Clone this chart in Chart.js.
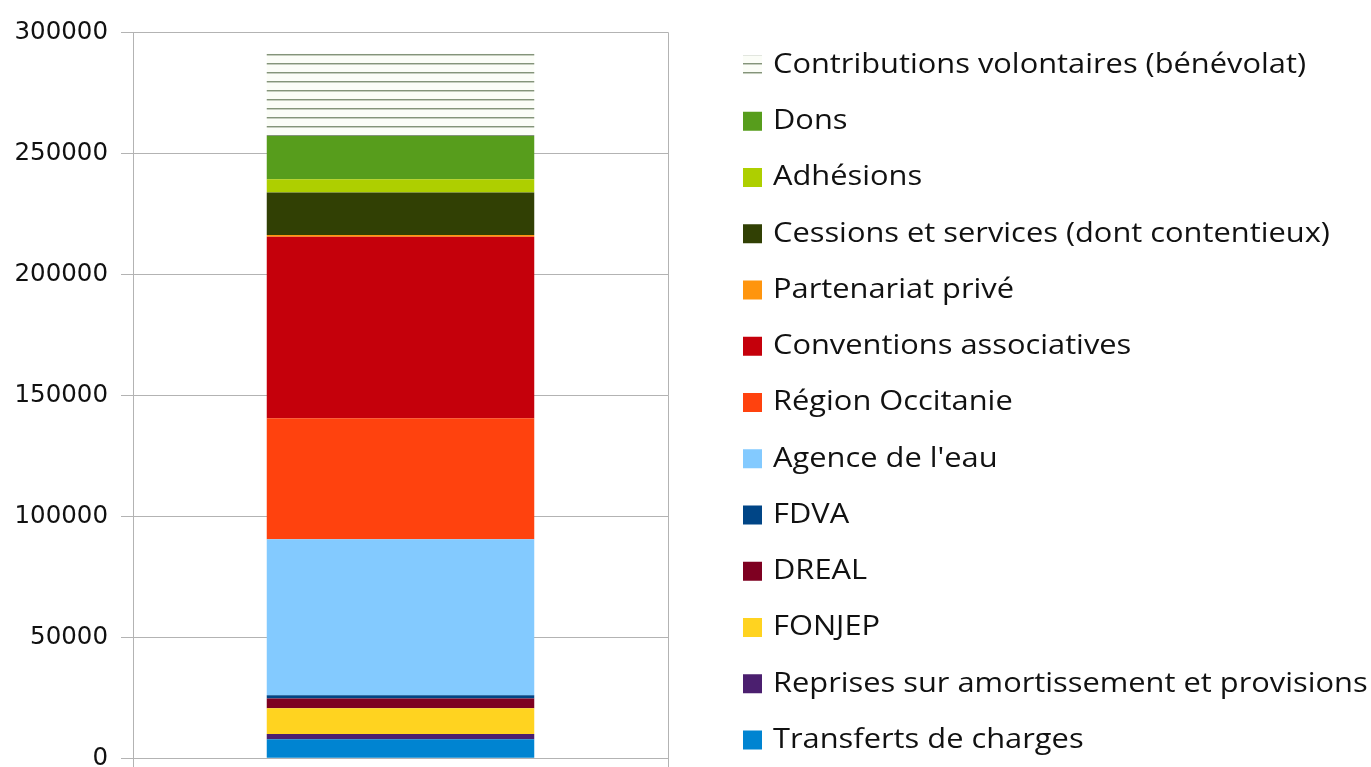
<!DOCTYPE html>
<html lang="fr">
<head>
<meta charset="utf-8">
<title>Ressources</title>
<script src="https://cdn.jsdelivr.net/npm/chart.js@4"></script>
<style>
  html, body { margin: 0; padding: 0; background: #fff; overflow: hidden; }
  #wrap { width: 1371px; height: 786px; }
</style>
</head>
<body>
<div id="wrap"><canvas id="chart" width="1371" height="786"></canvas></div>
<script>
// one stacked bar, series listed bottom -> top
const categories = [''];
const seriesNames = [
    'Transferts de charges',
    'Reprises sur amortissement et provisions',
    'FONJEP',
    'DREAL',
    'FDVA',
    "Agence de l'eau",
    'Région Occitanie',
    'Conventions associatives',
    'Partenariat privé',
    'Cessions et services (dont contentieux)',
    'Adhésions',
    'Dons',
    'Contributions volontaires (bénévolat)'
];
const seriesValues = [7900, 2100, 10700, 4000, 1400, 64400, 50000, 75000, 700, 17600, 5500, 17900, 34000];
const yTicks = [0, 50000, 100000, 150000, 200000, 250000, 300000];

const colors = ['#0084d1', '#4b1f6f', '#ffd320', '#7e0021', '#004586', '#83caff',
    '#ff420e', '#c5000b', '#ff950e', '#314004', '#aecf00', '#579d1c'];

// horizontal hatch for the volunteer contributions
function hatch() {
    const c = document.createElement('canvas');
    c.width = 8; c.height = 9;
    const g = c.getContext('2d');
    g.fillStyle = '#fbfdf7';
    g.fillRect(0, 0, 8, 9);
    g.fillStyle = '#84947a';
    g.fillRect(0, 0, 8, 1);
    g.fillStyle = 'rgba(132,148,122,0.45)';
    g.fillRect(0, 1, 8, 1);
    return g.createPattern(c, 'repeat');
}

const fills = colors.concat([hatch()]);
const gridColor = '#b3b3b3';

// legend list drawn beside the plot (top entry = last series)
const sideLegend = {
    id: 'sideLegend',
    afterDraw(chart) {
        const ctx = chart.ctx;
        const items = chart.data.datasets.map(d => ({ text: d.label, fill: d.backgroundColor })).reverse();
        ctx.save();
        ctx.font = '28px "Open Sans", sans-serif';
        ctx.textBaseline = 'middle';
        const sx = 533 / ctx.measureText(items[0].text).width;
        items.forEach((it, i) => {
            const y = 65 + i * 56.25;
            ctx.fillStyle = it.fill;
            ctx.fillRect(743, y - 9.5, 19, 19);
            ctx.save();
            ctx.translate(773, y);
            ctx.scale(sx, 1);
            ctx.fillStyle = '#111';
            ctx.fillText(it.text, 0, 0);
            ctx.restore();
        });
        ctx.restore();
    }
};

const datasets = seriesNames.map((name, i) => ({
    label: name,
    data: [seriesValues[i]],
    backgroundColor: fills[i],
    borderWidth: 0,
    barPercentage: 0.5,
    categoryPercentage: 1
}));

// canvas is a bit taller than the window; the bottom strip is cropped like the original
new Chart(document.getElementById('chart'), {
    type: 'bar',
    data: { labels: categories, datasets: datasets },
    plugins: [sideLegend],
    options: {
        responsive: false,
        animation: false,
        layout: { padding: { top: 32.3, right: 703, left: 0, bottom: 0 } },
        plugins: {
            tooltip: { enabled: false },
            legend: { display: false }
        },
        scales: {
            x: {
                stacked: true,
                grid: { color: gridColor, offset: true, tickLength: 12 },
                border: { color: gridColor },
                ticks: { display: false },
                afterFit: s => { s.height = 786 - 758.3; }
            },
            y: {
                stacked: true,
                min: 0,
                max: 300000,
                afterBuildTicks: s => { s.ticks = yTicks.map(v => ({ value: v })); },
                ticks: {
                    padding: 13,
                    color: '#111',
                    font: { family: '"DejaVu Sans", sans-serif', size: 24.5 },
                    callback: v => String(v)
                },
                grid: { color: gridColor, tickLength: 12 },
                border: { color: gridColor },
                afterFit: s => { s.width = 133; }
            }
        }
    }
});
</script>
</body>
</html>
